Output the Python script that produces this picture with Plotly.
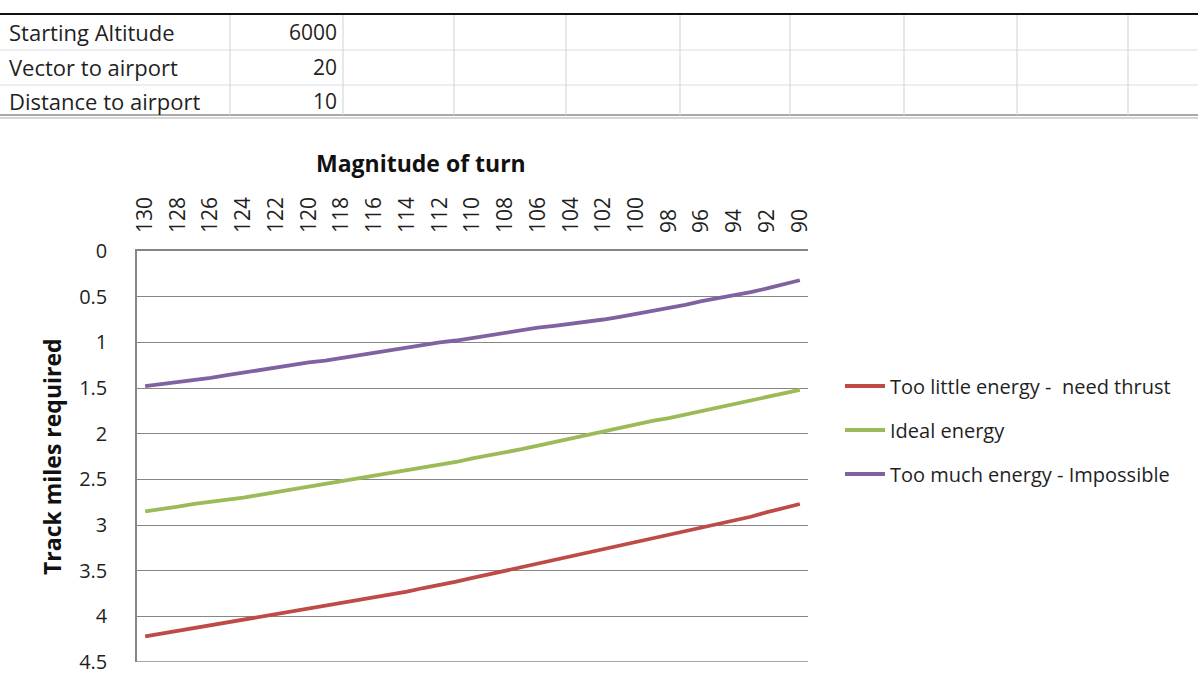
import plotly.graph_objects as go

# Turn magnitude categories (degrees), plotted left to right from 130 down to 90
turn_degrees = [130, 129, 128, 127, 126, 125, 124, 123, 122, 121, 120, 119, 118, 117,
                116, 115, 114, 113, 112, 111, 110, 109, 108, 107, 106, 105, 104, 103,
                102, 101, 100, 99, 98, 97, 96, 95, 94, 93, 92, 91, 90]

too_little = [4.22, 4.19, 4.16, 4.12, 4.10, 4.07, 4.04, 4.01, 3.97, 3.94, 3.91, 3.89, 3.86, 3.83,
              3.79, 3.76, 3.73, 3.69, 3.66, 3.62, 3.58, 3.54, 3.50, 3.47, 3.43, 3.38, 3.34, 3.30,
              3.26, 3.22, 3.18, 3.14, 3.11, 3.07, 3.03, 2.99, 2.95, 2.91, 2.86, 2.82, 2.77]

ideal = [2.85, 2.83, 2.80, 2.77, 2.75, 2.72, 2.70, 2.67, 2.64, 2.61, 2.58, 2.56, 2.53, 2.50,
         2.47, 2.44, 2.41, 2.38, 2.34, 2.31, 2.27, 2.24, 2.20, 2.17, 2.13, 2.09, 2.05, 2.01,
         1.98, 1.94, 1.90, 1.86, 1.83, 1.79, 1.75, 1.71, 1.68, 1.64, 1.60, 1.56, 1.52]

too_much = [1.48, 1.46, 1.44, 1.41, 1.39, 1.36, 1.33, 1.31, 1.28, 1.25, 1.22, 1.20, 1.17, 1.14,
            1.12, 1.09, 1.06, 1.03, 1.00, 0.98, 0.95, 0.92, 0.89, 0.87, 0.84, 0.82, 0.80, 0.77,
            0.75, 0.72, 0.69, 0.66, 0.62, 0.59, 0.55, 0.52, 0.48, 0.45, 0.41, 0.37, 0.32]

series_names = ["Too little energy -  need thrust", "Ideal energy", "Too much energy - Impossible"]
series_colors = ["#BE4B48", "#9BBB59", "#7F63A1"]

y_ticks = [0, 0.5, 1, 1.5, 2, 2.5, 3, 3.5, 4, 4.5]
y_tick_text = ["0", "0.5", "1", "1.5", "2", "2.5", "3", "3.5", "4", "4.5"]

# Worksheet parameters shown above the chart
param_labels = ["Starting Altitude", "Vector to airport", "Distance to airport"]
param_values = ["6000", "20", "10"]

W, H = 1198, 682
L, R, T, B = 137, 808, 251, 662
FONT = "'Open Sans', Lato, sans-serif"
TXT = "#1f1f1f"
GRID = "#868686"


def px(x):
    return (x - L) / (R - L)


def py(y):
    return (B - y) / (B - T)


cats = [str(d) for d in turn_degrees]

fig = go.Figure()
for name, vals, col in zip(series_names, [too_little, ideal, too_much], series_colors):
    fig.add_trace(go.Scatter(
        x=cats, y=vals, name=name, mode="lines",
        line=dict(color=col, width=3.8), legendgroup=name,
    ))

shapes = []
# closing gridline along the bottom of the value range
shapes.append(dict(type="line", xref="paper", yref="y", x0=0, x1=1,
                   y0=y_ticks[-1], y1=y_ticks[-1], layer="below",
                   line=dict(color=GRID, width=1.3)))
# sheet grid: heavy top rule, row separators, double bottom rule, column separators
shapes.append(dict(type="line", xref="paper", yref="paper",
                   x0=px(0), x1=px(W), y0=py(14), y1=py(14),
                   line=dict(color="#111111", width=2)))
for yy in (50, 85):
    shapes.append(dict(type="line", xref="paper", yref="paper",
                       x0=px(0), x1=px(W), y0=py(yy), y1=py(yy),
                       line=dict(color="#dadde3", width=1)))
for yy, c in ((115, "#8c8c8c"), (118, "#c8c8c8")):
    shapes.append(dict(type="line", xref="paper", yref="paper",
                       x0=px(0), x1=px(W), y0=py(yy), y1=py(yy),
                       line=dict(color=c, width=1.5)))
for xx in (230, 343, 454, 566, 680, 790, 904, 1017, 1128):
    shapes.append(dict(type="line", xref="paper", yref="paper",
                       x0=px(xx), x1=px(xx), y0=py(15), y1=py(115),
                       line=dict(color="#d6d9df", width=1.2)))

annotations = []
for i, (lab, val) in enumerate(zip(param_labels, param_values)):
    yc = 32 + i * 34.5
    annotations.append(dict(xref="paper", yref="paper", x=px(7), y=py(yc),
                            xanchor="left", yanchor="middle", text=lab, showarrow=False,
                            font=dict(family=FONT, size=22, color=TXT)))
    annotations.append(dict(xref="paper", yref="paper", x=px(339), y=py(yc),
                            xanchor="right", yanchor="middle", text=val, showarrow=False,
                            font=dict(family=FONT, size=21, color=TXT)))

annotations.append(dict(xref="paper", yref="paper", x=px(421), y=py(163),
                        xanchor="center", yanchor="middle", text="<b>Magnitude of turn</b>",
                        showarrow=False, font=dict(family=FONT, size=23, color="#111111")))
annotations.append(dict(xref="paper", yref="paper", x=px(52), y=py(457),
                        xanchor="center", yanchor="middle", text="<b>Track miles required</b>",
                        textangle=-90, showarrow=False,
                        font=dict(family=FONT, size=23, color="#111111")))

fig.update_layout(
    width=W, height=H,
    margin=dict(l=L, r=W - R, t=T, b=H - B, pad=0, autoexpand=False),
    paper_bgcolor="white", plot_bgcolor="white",
    font=dict(family=FONT, color=TXT),
    shapes=shapes, annotations=annotations,
    showlegend=True,
    legend=dict(x=px(840), y=py(430), xanchor="left", yanchor="middle",
                font=dict(family=FONT, size=20, color=TXT),
                traceorder="grouped", tracegroupgap=15,
                bgcolor="rgba(0,0,0,0)", itemwidth=40),
    xaxis=dict(
        type="category", side="top", range=[-0.5, len(cats) - 0.5],
        tickmode="array", tickvals=cats[::2], ticktext=cats[::2],
        tickangle=-90, tickfont=dict(family=FONT, size=21, color=TXT),
        showgrid=False, showline=True, linecolor=GRID, linewidth=1.5,
        ticks="", ticklabelstandoff=12, zeroline=False, automargin=False,
    ),
    yaxis=dict(
        range=[4.5, 0], tickmode="array", tickvals=y_ticks, ticktext=y_tick_text,
        tickfont=dict(family=FONT, size=20, color=TXT),
        showgrid=True, gridcolor=GRID, gridwidth=1.3,
        showline=True, linecolor=GRID, linewidth=1.5,
        ticks="", ticklabelstandoff=24, zeroline=False, automargin=False,
    ),
)

fig.write_html("out.html")
